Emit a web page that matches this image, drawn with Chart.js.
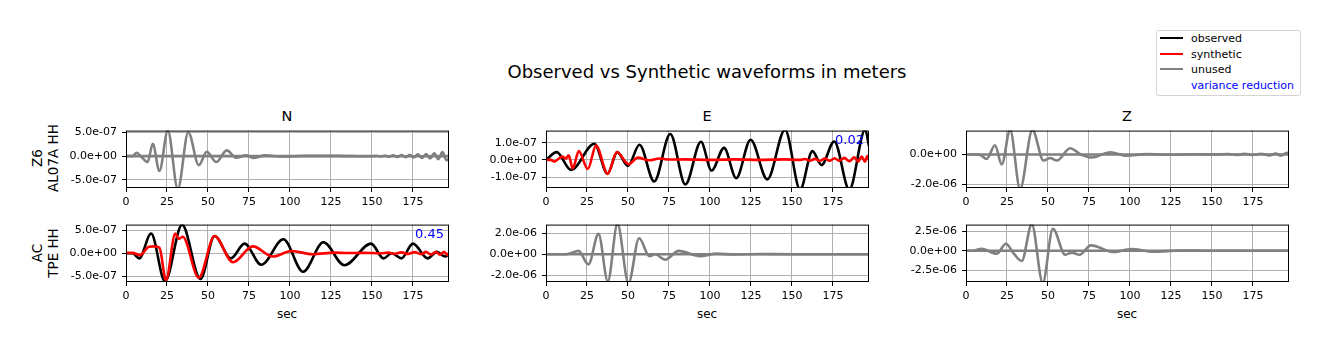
<!DOCTYPE html>
<html>
<head>
<meta charset="utf-8">
<script src="https://cdn.jsdelivr.net/npm/chart.js@4.4.1/dist/chart.umd.min.js"></script>
<style>
  body { margin: 0; width: 1329px; height: 351px; background: #fff; position: relative; overflow: hidden;
         font-family: "DejaVu Sans", sans-serif; color: #000; }
  .t { position: absolute; white-space: nowrap; transform: translate(-50%, -50%); line-height: 1; }
  .rl { position: absolute; white-space: nowrap; text-align: center; font-size: 13.5px; line-height: 16px;
        transform: translate(-50%, -50%) rotate(-90deg); }
  canvas { position: absolute; }
  .lg-box { position: absolute; left: 1156px; top: 30px; width: 143px; height: 64px;
            border: 1px solid #d4d4d4; border-radius: 3px; }
  .lg-line { position: absolute; left: 1160px; width: 23px; height: 2px; }
  .lg-text { position: absolute; left: 1191px; font-size: 11px; line-height: 1; transform: translateY(-50%); white-space: nowrap; }
</style>
</head>
<body>

<div class="t" style="left:707px; top:72px; font-size:18px;">Observed vs Synthetic waveforms in meters</div>

<div class="t" style="left:287px; top:116px; font-size:14.5px;">N</div>
<div class="t" style="left:707px; top:116px; font-size:14.5px;">E</div>
<div class="t" style="left:1127px; top:116px; font-size:14.5px;">Z</div>

<div class="rl" style="left:45px; top:158px;">Z6<br>AL07A HH</div>
<div class="rl" style="left:45px; top:253px;">AC<br>TPE HH</div>

<div class="t" style="left:287px; top:314px; font-size:12px;">sec</div>
<div class="t" style="left:707px; top:314px; font-size:12px;">sec</div>
<div class="t" style="left:1127px; top:314px; font-size:12px;">sec</div>

<div class="lg-box"></div>
<div class="lg-line" style="top:37px; background:#000;"></div>
<div class="lg-text" style="top:38px;">observed</div>
<div class="lg-line" style="top:53px; background:#ff0000;"></div>
<div class="lg-text" style="top:54px;">synthetic</div>
<div class="lg-line" style="top:68px; background:#808080;"></div>
<div class="lg-text" style="top:69px;">unused</div>
<div class="lg-text" style="top:85px; color:#0000ff;">variance reduction</div>

<script>
Chart.defaults.font.family = '"DejaVu Sans", sans-serif';
Chart.defaults.color = '#000';

// all amplitudes below are in units of 1e-7 m
const UNIT = 1e-7;
const X_MAX = 197;
const xTicks = [0, 25, 50, 75, 100, 125, 150, 175];

// Z6 AL07A HH - N (unused)
const r1nObsT = [0, 4, 6.5, 9.5, 13.2, 16.3, 20.4, 25.5, 31.6, 38, 44.4, 49.3, 55, 61.5, 67.2, 73.3, 77.4, 85, 95, 110, 130, 145, 197];
const r1nObsV = [0, 0, 0.7, -0.2, -1.25, 2.6, -3.1, 5.4, -6.9, 5.0, -1.9, 0.9, -1.25, 1.2, -0.35, 0.15, -0.4, 0.15, -0.1, 0.05, 0.05, -0.05, 0];
const r1nSynT = [0, 50, 100, 150, 153, 155.5, 158, 160.5, 163, 165.5, 168, 170.5, 173, 175.5, 178, 180.5, 183, 185.5, 188, 190.5, 193, 195.5, 197];
const r1nSynV = [0, 0, 0, 0, 0.08, -0.1, 0.12, -0.12, 0.18, -0.2, 0.22, -0.22, 0.28, -0.3, 0.35, -0.4, 0.45, -0.5, 0.6, -0.65, 0.85, -0.9, -0.5];

// Z6 AL07A HH - E
const r1eObsT = [0, 6.5, 15.3, 29.5, 37.5, 43.5, 50, 57, 66, 75.8, 85, 94.5, 101, 108.6, 116, 124.8, 135, 145.8, 155, 162.5, 168, 175.8, 185, 194.7, 197];
const r1eObsV = [0, 0.45, -0.58, 0.94, -0.8, 0.45, -0.35, 0.88, -1.25, 1.5, -1.43, 1.05, -0.62, 0.7, -1.06, 1.17, -1.13, 1.75, -1.72, 0.51, -0.3, 1.07, -1.72, 1.75, 0.8];
const r1eSynT = [0, 3, 5, 9.8, 12.2, 13.8, 16.3, 20, 25.5, 30.5, 37.7, 43.2, 50.5, 56, 63, 69, 75, 85, 100, 115, 130, 145, 155, 158, 161, 164, 167, 170, 173, 176, 179, 182, 185, 188, 190.5, 192.5, 194.5, 196, 197];
const r1eSynV = [0, 0, -0.1, 0.19, 0.08, 0.26, -0.49, 0.51, -0.53, 0.83, -0.81, 0.45, -0.25, 0.13, -0.02, 0.08, 0.02, 0.03, 0, 0.03, 0, 0.03, 0, 0.05, -0.05, 0.06, -0.06, 0.08, -0.05, 0.1, -0.05, 0.12, -0.08, 0.15, -0.1, 0.2, -0.1, 0.22, 0];

// Z6 AL07A HH - Z (unused)
const r1zObsT = [0, 6.5, 9, 12.6, 17.7, 21.8, 26.9, 33, 40.5, 47.3, 51.3, 55.4, 63.5, 70, 76.8, 88, 98, 110, 125, 140, 160, 197];
const r1zObsV = [0, 0, -0.5, -3.0, 6.1, -6.7, 16.3, -23, 16.3, -4.1, -2.4, -4.1, 4.1, 0, -2.0, 1.5, -0.9, 0.2, -0.2, 0.1, 0, 0];
const r1zSynT = [0, 60, 150, 160, 165, 170, 175, 180, 185, 189, 192, 195, 197];
const r1zSynV = [0, 0, 0, 0.3, -0.3, 0.4, -0.4, 0.5, -0.6, 0.6, -0.8, 0.8, 1.2];

// AC TPE HH - N
const r2nObsT = [0, 4, 8.1, 15.3, 23.8, 34.2, 45.4, 54, 64, 72.3, 82.5, 96, 108, 120.4, 133.2, 149.5, 157, 162, 168, 175, 184, 189.6, 194.7, 197];
const r2nObsV = [0, 0, -1.1, 4.3, -6.1, 6.2, -5.6, 3.75, -1.1, 2.1, -2.5, 3.05, -4.0, 2.4, -2.6, 2.1, -1.1, 0, -1.1, 2.1, -1.1, 0.3, -0.7, -0.2];
const r2nSynT = [0, 4, 8.5, 14, 17.3, 20.4, 24.4, 30.1, 32.2, 34.6, 44.4, 54, 65.2, 77.4, 89.6, 101, 114, 127.5, 135, 145, 155, 160, 164, 168, 172, 176, 180, 183, 186, 189, 191.5, 194, 196, 197];
const r2nSynV = [0.1, 0.1, -0.4, 1.4, 1.5, 1.2, -5.8, 4.3, 3.1, 3.6, -5.3, 3.75, -1.95, 1.5, -0.7, 0.5, -0.2, 0.15, 0.05, 0.1, 0, 0.15, -0.1, 0.2, -0.15, 0.25, -0.2, 0.3, -0.25, 0.3, -0.3, 0.35, -0.4, 0.1];

// AC TPE HH - E (unused)
const r2eObsT = [0, 10, 14, 19.8, 25.9, 32, 37.7, 43.6, 50.3, 56.8, 63.1, 66.6, 72.7, 80.9, 94, 104, 115, 130, 150, 197];
const r2eObsV = [0, 0, 0.5, 3.2, -9.7, 19.4, -25.8, 29, -27.5, 15.2, -1.9, 0, -5.2, 3.2, -1.9, 0.6, -0.3, 0.2, 0, 0];
const r2eSynT = [0, 100, 197];
const r2eSynV = [0, 0, 0];

// AC TPE HH - Z (unused)
const r2zObsT = [0, 4, 9.6, 18.7, 24.4, 28.9, 34, 40.1, 46.8, 53, 60.5, 64.6, 69.2, 76.2, 90, 101, 114.5, 130, 150, 197];
const r2zObsV = [0, 0, 2.5, -3.8, 8.9, -3.0, -13.1, 34, -41, 28, -5.1, -2.5, -5.1, 6.8, -1.7, 2.1, -1.3, 0.2, 0, 0];
const r2zSynT = [0, 100, 197];
const r2zSynV = [0, 0, 0];

// y ranges and ticks (same units)
const yLimits = [[-6.7, 5.35], [-1.63, 1.70], [-22.4, 15.9], [-6.24, 6.24], [-26.5, 28.3], [-40, 33.4]];
const yTickVals = [[-5, 0, 5], [-1, 0, 1], [-20, 0], [-5, 0, 5], [-20, 0, 20], [-25, 0, 25]];
const vrTexts = ['', '0.02', '', '0.45', '', ''];

const BLACK = '#000000', RED = '#ff0000', GRAY = '#808080';

const panels = [
  { obsT: r1nObsT, obsV: r1nObsV, synT: r1nSynT, synV: r1nSynV, obsColor: GRAY, synColor: GRAY },
  { obsT: r1eObsT, obsV: r1eObsV, synT: r1eSynT, synV: r1eSynV, obsColor: BLACK, synColor: RED },
  { obsT: r1zObsT, obsV: r1zObsV, synT: r1zSynT, synV: r1zSynV, obsColor: GRAY, synColor: GRAY },
  { obsT: r2nObsT, obsV: r2nObsV, synT: r2nSynT, synV: r2nSynV, obsColor: BLACK, synColor: RED },
  { obsT: r2eObsT, obsV: r2eObsV, synT: r2eSynT, synV: r2eSynV, obsColor: GRAY, synColor: GRAY },
  { obsT: r2zObsT, obsV: r2zObsV, synT: r2zSynT, synV: r2zSynV, obsColor: GRAY, synColor: GRAY }
];

// layout in page pixels
const colLeft = [126, 546, 966];
const rowTop = [129, 223];
const PLOT_W = 323, PLOT_H = 59;
const AXIS_W = 90, AXIS_H = 30, PAD_T = 10, PAD_R = 10;

function fmtSci(v) {
  if (Math.abs(v) < 1e-15) return '0.0e+00';
  const parts = v.toExponential(1).split('e');
  const n = parseInt(parts[1], 10);
  return parts[0] + 'e' + (n < 0 ? '-' : '+') + String(Math.abs(n)).padStart(2, '0');
}

function pts(t, v) {
  return t.map((x, i) => ({ x: x, y: v[i] * UNIT }));
}

function panelDecor(vrText) {
  return {
    id: 'panelDecor',
    afterDatasetsDraw(chart) {
      const ctx = chart.ctx, a = chart.chartArea;
      ctx.save();
      ctx.strokeStyle = '#000';
      ctx.lineWidth = 1;
      ctx.strokeRect(a.left + 0.5, a.top + 0.5, a.right - a.left - 1, a.bottom - a.top - 1);
      if (vrText) {
        ctx.fillStyle = '#0000ff';
        ctx.font = '13px "DejaVu Sans"';
        ctx.textAlign = 'right';
        ctx.textBaseline = 'middle';
        ctx.fillText(vrText, a.right - 5, a.top + 10);
      }
      ctx.restore();
    }
  };
}

panels.forEach((p, i) => {
  const r = Math.floor(i / 3), c = i % 3;
  const canvas = document.createElement('canvas');
  canvas.width = AXIS_W + PLOT_W + PAD_R;
  canvas.height = PAD_T + PLOT_H + AXIS_H;
  canvas.style.left = (colLeft[c] - AXIS_W) + 'px';
  canvas.style.top = (rowTop[r] - PAD_T) + 'px';
  canvas.style.width = canvas.width + 'px';
  canvas.style.height = canvas.height + 'px';
  document.body.appendChild(canvas);

  const lineStyle = { borderWidth: 2.6, pointRadius: 0, fill: false, cubicInterpolationMode: 'monotone' };

  new Chart(canvas, {
    type: 'line',
    data: {
      datasets: [
        Object.assign({ label: 'synthetic', data: pts(p.synT, p.synV), borderColor: p.synColor, order: 0 }, lineStyle),
        Object.assign({ label: 'observed', data: pts(p.obsT, p.obsV), borderColor: p.obsColor, order: 1 }, lineStyle)
      ]
    },
    options: {
      responsive: false,
      animation: false,
      layout: { padding: { top: PAD_T, right: PAD_R, left: 0, bottom: 0 } },
      plugins: { legend: { display: false }, tooltip: { enabled: false } },
      scales: {
        x: {
          type: 'linear', min: 0, max: X_MAX,
          afterBuildTicks: s => { s.ticks = xTicks.map(v => ({ value: v })); },
          afterFit: s => { s.height = AXIS_H; },
          grid: { color: '#b0b0b0', lineWidth: 1, tickColor: '#000', tickLength: 4 },
          border: { display: false },
          ticks: { color: '#000', font: { size: 11 }, padding: 4, maxRotation: 0, autoSkip: false }
        },
        y: {
          type: 'linear', min: yLimits[i][0] * UNIT, max: yLimits[i][1] * UNIT,
          afterBuildTicks: s => { s.ticks = yTickVals[i].map(v => ({ value: v * UNIT })); },
          afterFit: s => { s.width = AXIS_W; },
          grid: { color: '#b0b0b0', lineWidth: 1, tickColor: '#000', tickLength: 4 },
          border: { display: false },
          ticks: { color: '#000', font: { size: 11 }, padding: 5, autoSkip: false, callback: v => fmtSci(v) }
        }
      }
    },
    plugins: [panelDecor(vrTexts[i])]
  });
});
</script>
</body>
</html>
